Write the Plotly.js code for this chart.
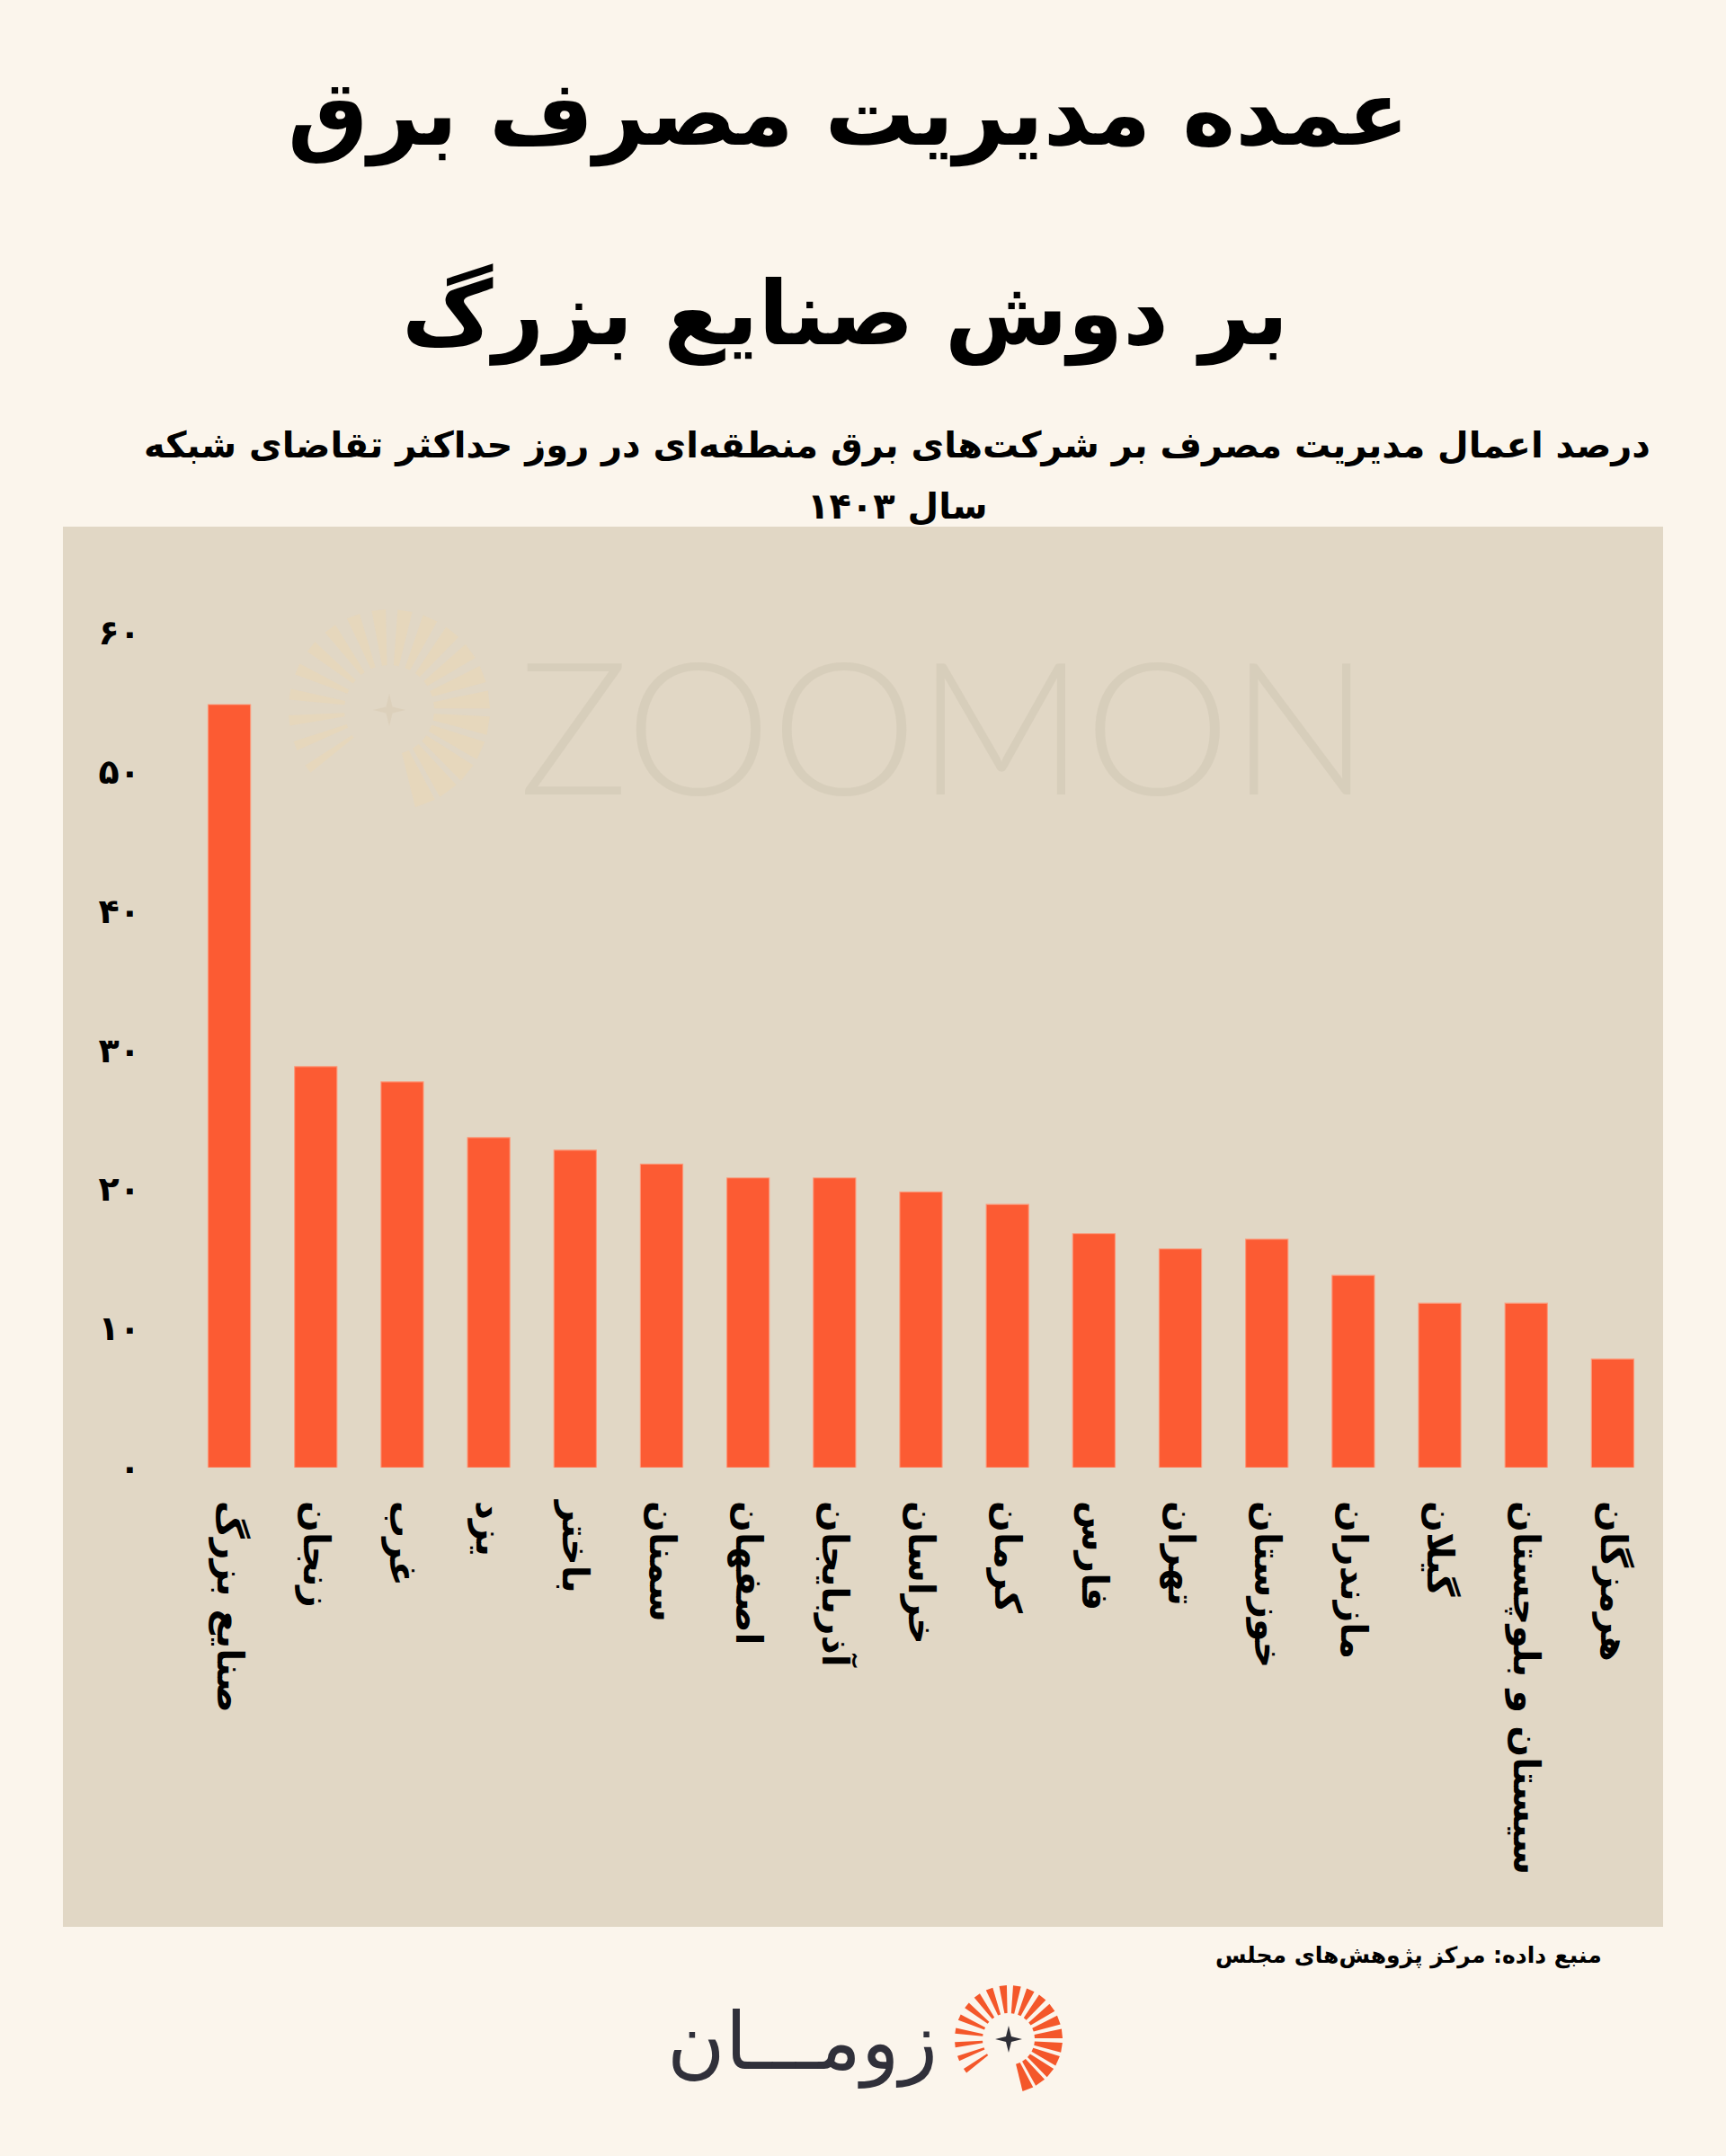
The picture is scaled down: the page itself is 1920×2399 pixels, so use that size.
<!DOCTYPE html>
<html>
<head>
<meta charset="utf-8">
<script src="https://cdn.plot.ly/plotly-3.0.1.min.js"></script>
<style>
  html, body { margin: 0; padding: 0; background: #FBF5EC; }
  #chart { width: 1920px; height: 2399px; }
</style>
</head>
<body>
<div id="chart"></div>
<script>
// ---------- data ----------
const regions = [
  "صنایع بزرگ", "زنجان", "غرب", "یزد", "باختر", "سمنان", "اصفهان",
  "آذربایجان", "خراسان", "کرمان", "فارس", "تهران", "خوزستان",
  "مازندران", "گیلان", "سیستان و بلوچستان", "هرمزگان"
];
const shares = [54.8, 28.8, 27.7, 23.7, 22.8, 21.8, 20.8, 20.8, 19.8, 18.9, 16.8, 15.7, 16.4, 13.8, 11.8, 11.8, 7.8];
const yTickVals = [0, 10, 20, 30, 40, 50, 60];
const yTickText = ["۰", "۱۰", "۲۰", "۳۰", "۴۰", "۵۰", "۶۰"];

const titleLine1 = "عمده مدیریت مصرف برق";
const titleLine2 = "بر دوش صنایع بزرگ";
const subLine1 = "درصد اعمال مدیریت مصرف بر شرکت‌های برق منطقه‌ای در روز حداکثر تقاضای شبکه";
const subLine2 = "سال ۱۴۰۳";
const sourceText = "منبع داده: مرکز پژوهش‌های مجلس";
const logoText = "زومـــان";
const watermarkText = "ZOOMON";

// ---------- layout geometry ----------
const W = 1920, H = 2399;
const M = { l: 207, r: 78, t: 626, b: 766 };
const PW = W - M.l - M.r, PH = H - M.t - M.b;
const px = x => (x - M.l) / PW;        // pixel -> paper x
const py = y => (H - M.b - y) / PH;    // pixel -> paper y

const FA = "DejaVu Sans";
const BG_OUT = "#FBF5EC", BG_IN = "#E1D7C5", BAR = "#FC5B33";

// sunburst logo rays (decoration)
function sunburst(cx, cy, rIn, rOut, color, n) {
  const shapes = [];
  const a0 = 144, a1 = 429; // screen degrees (clockwise from +x)
  for (let i = 0; i < n; i++) {
    const a = (a0 + (a1 - a0) * i / (n - 1)) * Math.PI / 180;
    const t = i / (n - 1);
    const half = (0.045 + 0.06 * t);
    const pts = [
      [cx + rIn * Math.cos(a - half * 0.8), cy + rIn * Math.sin(a - half * 0.8)],
      [cx + rOut * Math.cos(a - half), cy + rOut * Math.sin(a - half)],
      [cx + rOut * Math.cos(a + half), cy + rOut * Math.sin(a + half)],
      [cx + rIn * Math.cos(a + half * 0.8), cy + rIn * Math.sin(a + half * 0.8)]
    ];
    const d = "M" + pts.map(p => px(p[0]).toFixed(5) + "," + py(p[1]).toFixed(5)).join(" L") + " Z";
    shapes.push({ type: "path", xref: "paper", yref: "paper", path: d,
      fillcolor: color, line: { width: 0 }, layer: "below" });
  }
  return shapes;
}
function star(cx, cy, r, color) {
  const pts = [];
  for (let k = 0; k < 8; k++) {
    const a = -Math.PI / 2 + k * Math.PI / 4;
    const rr = (k % 2 === 0) ? r : r * 0.28;
    pts.push([cx + rr * Math.cos(a), cy + rr * Math.sin(a)]);
  }
  const d = "M" + pts.map(p => px(p[0]).toFixed(5) + "," + py(p[1]).toFixed(5)).join(" L") + " Z";
  return { type: "path", xref: "paper", yref: "paper", path: d, fillcolor: color, line: { width: 0 }, layer: "below" };
}

const shapes = [
  { type: "rect", xref: "paper", yref: "paper", x0: px(70), x1: px(1850), y0: py(2144), y1: py(586),
    fillcolor: BG_IN, line: { width: 0 }, layer: "below" }
]
  .concat(sunburst(433, 790, 50, 112, "rgba(238,214,178,0.45)", 20))
  .concat([star(433, 790, 18, "rgba(215,200,175,0.45)")])
  .concat(sunburst(1122, 2269, 29, 60, "#F4572A", 20))
  .concat([star(1122, 2269, 15, "#2E2E36")]);

const annotations = [
  { text: "<b>" + titleLine1 + "</b>", x: px(943), y: py(127), xref: "paper", yref: "paper",
    xanchor: "center", yanchor: "middle", showarrow: false, font: { family: FA, size: 100, color: "#000" } },
  { text: "<b>" + titleLine2 + "</b>", x: px(940), y: py(350), xref: "paper", yref: "paper",
    xanchor: "center", yanchor: "middle", showarrow: false, font: { family: FA, size: 99, color: "#000" } },
  { text: "<b>" + subLine1 + "</b>", x: px(998), y: py(495), xref: "paper", yref: "paper",
    xanchor: "center", yanchor: "middle", showarrow: false, font: { family: FA, size: 40, color: "#000" } },
  { text: "<b>" + subLine2 + "</b>", x: px(998), y: py(563), xref: "paper", yref: "paper",
    xanchor: "center", yanchor: "middle", showarrow: false, font: { family: FA, size: 40, color: "#000" } },
  { text: "<b>" + sourceText + "</b>", x: px(1784), y: py(2176), xref: "paper", yref: "paper",
    xanchor: "right", yanchor: "middle", showarrow: false, font: { family: FA, size: 25, color: "#000" } },
  { text: logoText, x: px(892), y: py(2272), xref: "paper", yref: "paper",
    xanchor: "center", yanchor: "middle", showarrow: false, font: { family: FA, size: 88, color: "#30303A" } },
  { text: watermarkText, x: px(1050), y: py(805), xref: "paper", yref: "paper",
    xanchor: "center", yanchor: "middle", showarrow: false,
    font: { family: "Lato", size: 205, weight: 300, color: "rgba(205,196,176,0.45)" } }
];

const trace = {
  type: "bar",
  x: regions,
  y: shares,
  marker: { color: BAR, line: { color: "rgba(255,150,120,0.85)", width: 1.2 } },
  hoverinfo: "skip"
};

const layout = {
  width: W, height: H,
  margin: { l: M.l, r: M.r, t: M.t, b: M.b, pad: 0 },
  paper_bgcolor: BG_OUT,
  plot_bgcolor: "rgba(0,0,0,0)",
  bargap: 0.51,
  showlegend: false,
  xaxis: {
    type: "category",
    tickangle: 90,
    showgrid: false, zeroline: false, showline: false,
    ticks: "", ticklabelstandoff: 36,
    tickfont: { family: FA, size: 41, color: "#000", weight: "bold" },
    automargin: false
  },
  yaxis: {
    range: [0, 65],
    tickvals: yTickVals, ticktext: yTickText,
    showgrid: false, zeroline: false, showline: false,
    ticks: "", ticklabelstandoff: 50,
    tickfont: { family: FA, size: 38, color: "#000", weight: "bold" },
    automargin: false
  },
  shapes: shapes,
  annotations: annotations
};

Plotly.newPlot("chart", [trace], layout, { staticPlot: true, displayModeBar: false });
</script>
</body>
</html>
